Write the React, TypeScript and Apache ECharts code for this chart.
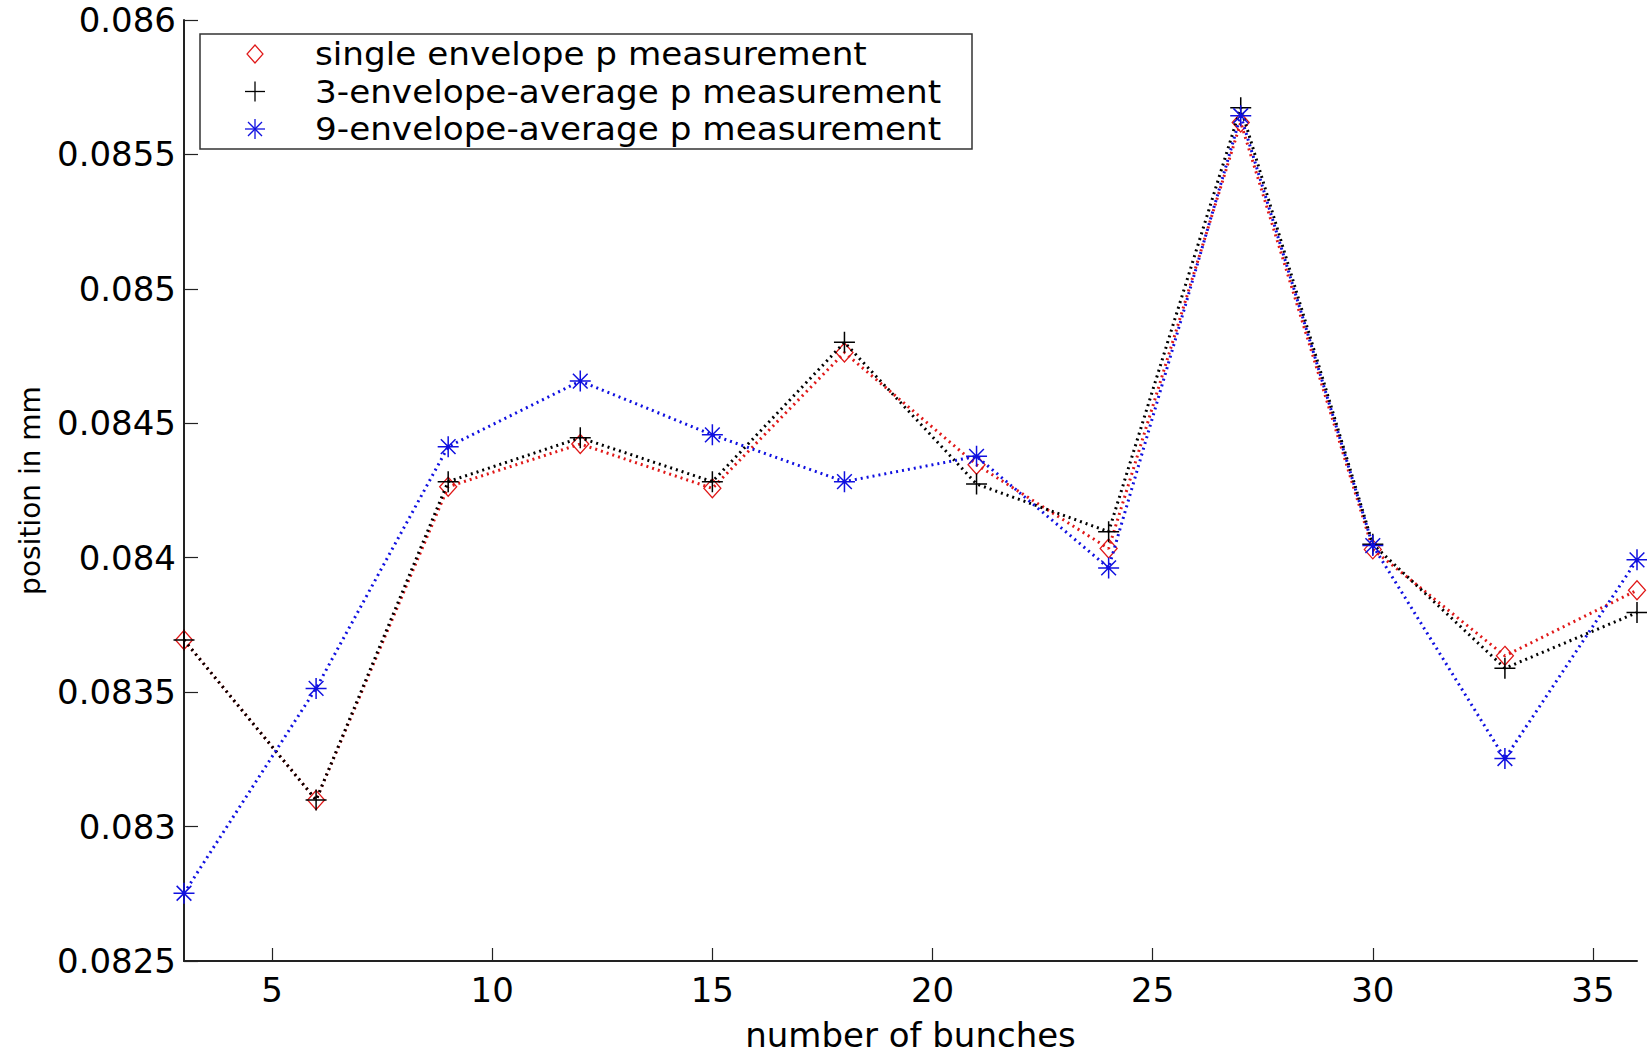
import React, { useEffect, useRef } from "react";
import * as echarts from "echarts";

const bunches = [3, 6, 9, 12, 15, 18, 21, 24, 27, 30, 33, 36];
const singleEnvelope = [0.083694, 0.083099, 0.084264, 0.084423, 0.084258, 0.084763, 0.084346, 0.084034, 0.085619, 0.084031, 0.083635, 0.083879];
const threeEnvelopeAvg = [0.083694, 0.083099, 0.084283, 0.084446, 0.084283, 0.084801, 0.084274, 0.084097, 0.085674, 0.08405, 0.083589, 0.083796];
const nineEnvelopeAvg = [0.082752, 0.083514, 0.084413, 0.084657, 0.084457, 0.084283, 0.084377, 0.083962, 0.085644, 0.084045, 0.083253, 0.083992];
const xTicks = [5, 10, 15, 20, 25, 30, 35];
const seriesNames = [
  "single envelope p measurement",
  "3-envelope-average p measurement",
  "9-envelope-average p measurement",
];

const FONT = "DejaVu Sans";
const PLUS = "path://M0,5 L10,5 M5,0 L5,10";
const STAR = "path://M0,5 L10,5 M5,0 L5,10 M1.5,1.5 L8.5,8.5 M1.5,8.5 L8.5,1.5";
const DIAMOND = "path://M5,0 L10,5 L5,10 L0,5 Z";

function pairs(ys: number[]) {
  return bunches.map((x, i) => [x, ys[i]]);
}

export default function App() {
  const ref = useRef<HTMLDivElement>(null);
  useEffect(() => {
    if (!ref.current) return;
    const chart = echarts.init(ref.current, undefined, { renderer: "svg" });
    const dotted = (color: string) => ({ color, width: 3, type: [2, 4] as number[] });
    const lx = 255;
    const rows = [54, 91.5, 129];
    chart.setOption({
      animation: false,
      backgroundColor: "#ffffff",
      grid: { left: 184, right: 10, top: 20, bottom: 96, containLabel: false, outerBoundsMode: "none" },
      xAxis: {
        type: "value",
        min: 3,
        max: 36,
        name: "number of bunches",
        nameLocation: "middle",
        nameGap: 57,
        nameTextStyle: { fontFamily: FONT, fontSize: 34, lineHeight: 34, color: "#000" },
        axisLine: { show: true, lineStyle: { color: "#222", width: 2 } },
        axisTick: { show: true, inside: true, length: 13, customValues: xTicks, lineStyle: { color: "#222", width: 1.2 } },
        axisLabel: { customValues: xTicks, fontFamily: FONT, fontSize: 34, color: "#000", margin: 12 },
        splitLine: { show: false },
      },
      yAxis: {
        type: "value",
        min: 0.0825,
        max: 0.086,
        interval: 0.0005,
        name: "position in mm",
        nameLocation: "middle",
        nameRotate: 90,
        nameGap: 140,
        nameTextStyle: { fontFamily: FONT, fontSize: 28, color: "#000" },
        axisLine: { show: true, lineStyle: { color: "#222", width: 2 } },
        axisTick: { show: true, inside: true, length: 14, lineStyle: { color: "#222", width: 1.2 } },
        axisLabel: {
          fontFamily: FONT,
          fontSize: 34,
          color: "#000",
          margin: 8,
          formatter: (v: number) => String(parseFloat(v.toFixed(4))),
        },
        splitLine: { show: false },
      },
      series: [
        {
          name: seriesNames[0],
          type: "line",
          data: pairs(singleEnvelope),
          clip: false,
          symbol: DIAMOND,
          symbolSize: [17, 19],
          itemStyle: { color: "transparent", borderColor: "#e01818", borderWidth: 1.3 },
          lineStyle: dotted("#e01818"),
          z: 2,
        },
        {
          name: seriesNames[1],
          type: "line",
          data: pairs(threeEnvelopeAvg),
          clip: false,
          symbol: PLUS,
          symbolSize: 21,
          itemStyle: { color: "transparent", borderColor: "#000", borderWidth: 1.5 },
          lineStyle: dotted("#000"),
          z: 3,
        },
        {
          name: seriesNames[2],
          type: "line",
          data: pairs(nineEnvelopeAvg),
          clip: false,
          symbol: STAR,
          symbolSize: 21,
          itemStyle: { color: "transparent", borderColor: "#1010e0", borderWidth: 1.5 },
          lineStyle: dotted("#1010e0"),
          z: 4,
        },
      ],
      graphic: [
        {
          type: "group",
          z: 100,
          children: [
            {
              type: "rect",
              shape: { x: 200, y: 34, width: 772, height: 115 },
              style: { fill: "#ffffff", stroke: "#333", lineWidth: 1.5 },
            },
            {
              type: "polygon",
              shape: { points: [[lx, rows[0] - 9], [lx + 8, rows[0]], [lx, rows[0] + 9], [lx - 8, rows[0]]] },
              style: { fill: "none", stroke: "#e01818", lineWidth: 1.2 },
            },
            { type: "line", shape: { x1: lx - 10, y1: rows[1], x2: lx + 10, y2: rows[1] }, style: { stroke: "#000", lineWidth: 1.3 } },
            { type: "line", shape: { x1: lx, y1: rows[1] - 10, x2: lx, y2: rows[1] + 10 }, style: { stroke: "#000", lineWidth: 1.3 } },
            { type: "line", shape: { x1: lx - 10, y1: rows[2], x2: lx + 10, y2: rows[2] }, style: { stroke: "#1010e0", lineWidth: 1.3 } },
            { type: "line", shape: { x1: lx, y1: rows[2] - 10, x2: lx, y2: rows[2] + 10 }, style: { stroke: "#1010e0", lineWidth: 1.3 } },
            { type: "line", shape: { x1: lx - 7, y1: rows[2] - 7, x2: lx + 7, y2: rows[2] + 7 }, style: { stroke: "#1010e0", lineWidth: 1.3 } },
            { type: "line", shape: { x1: lx - 7, y1: rows[2] + 7, x2: lx + 7, y2: rows[2] - 7 }, style: { stroke: "#1010e0", lineWidth: 1.3 } },
            ...seriesNames.map((t, i) => ({
              type: "text",
              x: 315,
              y: rows[i],
              scaleX: 1.07,
              style: {
                text: t,
                fontFamily: FONT,
                fontSize: 32,
                lineHeight: 32,
                fill: "#000",
                verticalAlign: "middle",
                align: "left",
              },
            })),
          ],
        },
      ],
    });
    return () => chart.dispose();
  }, []);
  return <div ref={ref} style={{ position: "absolute", left: 0, top: 0, width: 1647, height: 1057 }} />;
}
